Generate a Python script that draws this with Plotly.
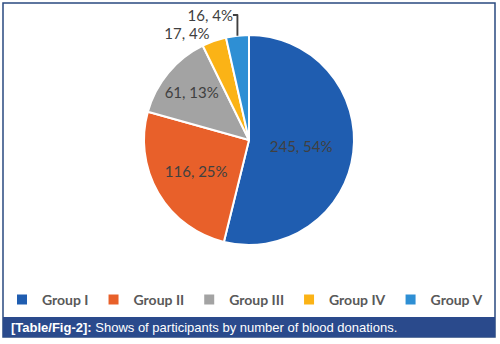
import plotly.graph_objects as go

groups = ["Group I", "Group II", "Group III", "Group IV", "Group V"]
counts = [245, 116, 61, 17, 16]
percents = [54, 25, 13, 4, 4]
colors = ["#1F5DB0", "#E8602A", "#A3A3A3", "#FBB316", "#2E8FD4"]
text_pos = ["inside", "inside", "inside", "outside", "outside"]

labels_txt = [f"{c}, {p}%" for c, p in zip(counts, percents)]

W, H = 500, 344

fig = go.Figure()
fig.add_trace(go.Pie(
    labels=groups,
    values=counts,
    text=labels_txt,
    texttemplate="%{text}",
    textposition=text_pos,
    insidetextorientation="horizontal",
    sort=False,
    direction="clockwise",
    rotation=0,
    marker=dict(colors=colors, line=dict(color="white", width=2)),
    textfont=dict(family="Lato, Noto Sans, sans-serif", size=15, color="#404040"),
    insidetextfont=dict(family="Lato, Noto Sans, sans-serif", size=15, color="#404040"),
    outsidetextfont=dict(family="Lato, Noto Sans, sans-serif", size=15, color="#404040"),
    domain=dict(x=[0.0, 0.996], y=[1 - 245 / H, 1 - 35 / H]),
    showlegend=True,
    hoverinfo="label+value+percent",
))

shapes = [
    dict(type="rect", xref="paper", yref="paper",
         x0=3 / W, x1=495 / W, y0=1 - 337 / H, y1=1 - 3 / H,
         line=dict(color="#2A4A80", width=1.5), fillcolor="rgba(0,0,0,0)", layer="below"),
    dict(type="rect", xref="paper", yref="paper",
         x0=3 / W, x1=495 / W, y0=1 - 337 / H, y1=1 - 317 / H,
         line=dict(width=0), fillcolor="#2A4A8C", layer="above"),
]

annotations = [
    dict(xref="paper", yref="paper", x=9 / W, y=1 - 327 / H, xanchor="left", yanchor="middle",
         showarrow=False,
         text="<b>[Table/Fig-2]:</b> Shows of participants by number of blood donations.",
         font=dict(family="Liberation Sans, Arial, sans-serif", size=13, color="white")),
]

fig.update_layout(
    width=W, height=H,
    margin=dict(l=0, r=0, t=0, b=0, autoexpand=False),
    paper_bgcolor="white",
    plot_bgcolor="white",
    shapes=shapes,
    annotations=annotations,
    legend=dict(orientation="h", x=0.49, xanchor="center", y=1 - 300 / H, yanchor="middle",
                font=dict(family="Lato, Noto Sans, sans-serif", size=14, color="#595959", weight="bold"),
                itemwidth=30, tracegroupgap=0, itemclick=False, bgcolor="rgba(0,0,0,0)"),
)

fig.write_html("out.html")
